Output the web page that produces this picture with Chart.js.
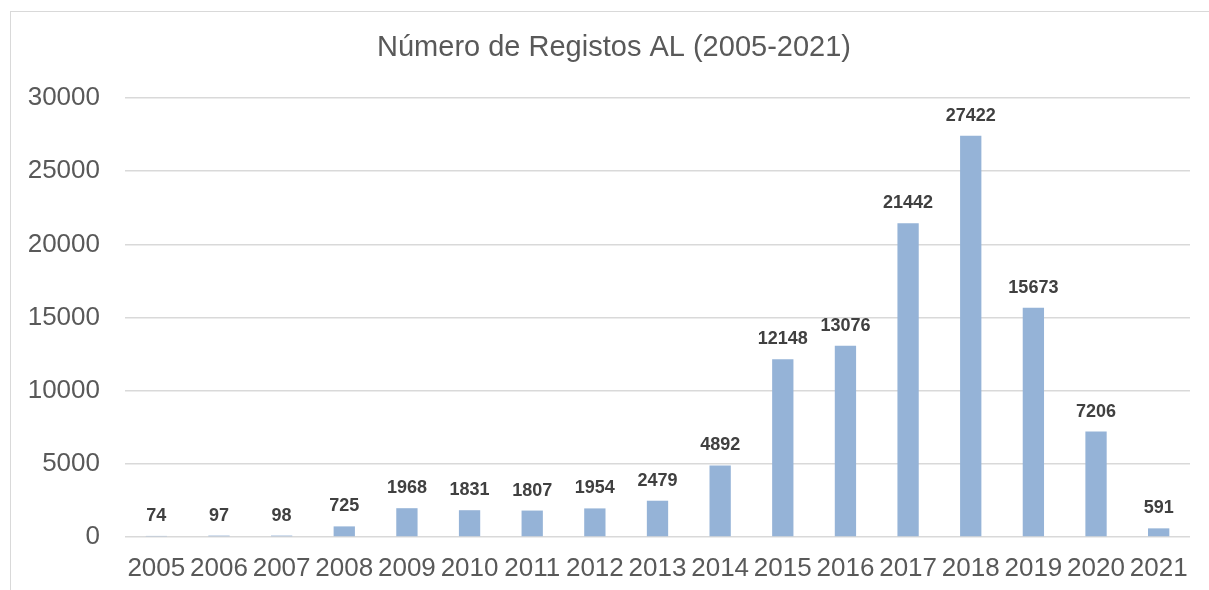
<!DOCTYPE html>
<html>
<head>
<meta charset="utf-8">
<script src="https://cdn.jsdelivr.net/npm/chart.js@4.4.0/dist/chart.umd.js"></script>
<style>
    html, body { margin: 0; padding: 0; background: #ffffff; overflow: hidden; }
    #frame {
        position: absolute; left: 10px; top: 11px;
        width: 1400px; height: 800px;
        border: 1px solid #d9d9d9;
    }
    #wrap { position: absolute; left: 0; top: 0; width: 1209px; height: 590px; }
</style>
</head>
<body>
<div id="frame"></div>
<div id="wrap"><canvas id="registosChart"></canvas></div>
<script>
// Número de Registos AL por ano
const titulo = 'Número de Registos AL (2005-2021)';
const anos = ['2005', '2006', '2007', '2008', '2009', '2010', '2011', '2012', '2013',
    '2014', '2015', '2016', '2017', '2018', '2019', '2020', '2021'];
const registos = [74, 97, 98, 725, 1968, 1831, 1807, 1954, 2479,
    4892, 12148, 13076, 21442, 27422, 15673, 7206, 591];
const yTicks = [0, 5000, 10000, 15000, 20000, 25000, 30000];

// Title centred on the whole frame, not on the plot area
const frameTitle = {
    id: 'frameTitle',
    afterDraw(chart) {
        const ctx = chart.ctx;
        ctx.save();
        ctx.font = "29px 'Liberation Sans', Arial, sans-serif";
        ctx.fillStyle = '#595959';
        ctx.textAlign = 'center';
        ctx.textBaseline = 'middle';
        ctx.fillText(titulo, 614, 48);
        ctx.restore();
    }
};

// Value labels above each bar
const valueLabels = {
    id: 'valueLabels',
    afterDatasetsDraw(chart) {
        const ctx = chart.ctx;
        const meta = chart.getDatasetMeta(0);
        ctx.save();
        ctx.font = "bold 18px 'Liberation Sans', Arial, sans-serif";
        ctx.fillStyle = '#404040';
        ctx.textAlign = 'center';
        ctx.textBaseline = 'middle';
        meta.data.forEach((bar, i) => {
            ctx.fillText(String(registos[i]), bar.x, bar.y - 20);
        });
        ctx.restore();
    }
};

new Chart(document.getElementById('registosChart'), {
    type: 'bar',
    data: {
        labels: anos,
        datasets: [{
            data: registos,
            backgroundColor: '#95b3d7',
            borderWidth: 0,
            barPercentage: 0.34,
            categoryPercentage: 1
        }]
    },
    options: {
        responsive: true,
        maintainAspectRatio: false,
        animation: false,
        layout: { padding: { left: 0, right: 19, top: 98, bottom: 0 } },
        plugins: {
            legend: { display: false },
            tooltip: { enabled: false },
            title: { display: false }
        },
        scales: {
            x: {
                grid: { display: false, drawTicks: false },
                border: { display: false },
                ticks: {
                    color: '#595959',
                    padding: 16,
                    maxRotation: 0,
                    autoSkip: false,
                    font: { size: 26, family: "'Liberation Sans', Arial, sans-serif" }
                },
                afterFit(scale) { scale.height = 53; }
            },
            y: {
                min: 0,
                max: 30000,
                afterBuildTicks(scale) { scale.ticks = yTicks.map(v => ({ value: v })); },
                grid: { color: '#d9d9d9', lineWidth: 1.5, drawTicks: false },
                border: { display: false },
                ticks: {
                    color: '#595959',
                    padding: 25,
                    font: { size: 26, family: "'Liberation Sans', Arial, sans-serif" },
                    callback: (v) => String(v)
                },
                afterFit(scale) { scale.width = 125; }
            }
        }
    },
    plugins: [valueLabels, frameTitle]
});
</script>
</body>
</html>
